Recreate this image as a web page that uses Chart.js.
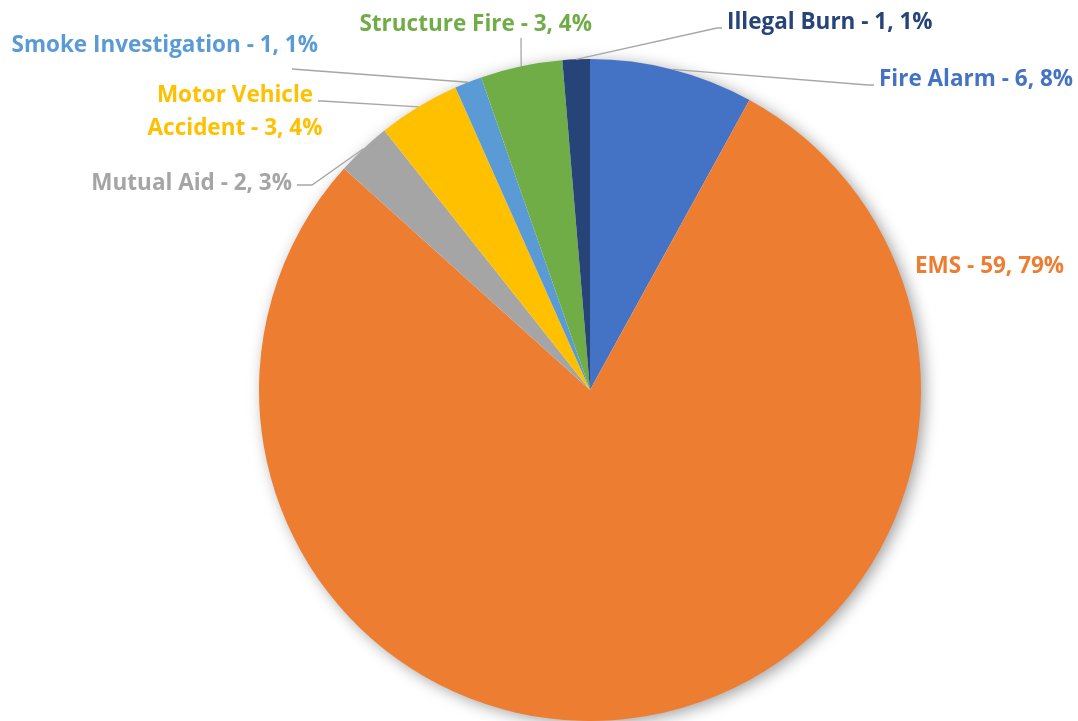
<!DOCTYPE html>
<html>
<head>
<meta charset="utf-8">
<script src="https://cdn.jsdelivr.net/npm/chart.js@4"></script>
<style>
  body { margin: 0; background: #fff; }
  #wrap { width: 1078px; height: 721px; }
</style>
</head>
<body>
<div id="wrap"><canvas id="myChart" width="1078" height="721"></canvas></div>
<script>
// dados do grafico
var categorias = ["Fire Alarm", "EMS", "Mutual Aid", "Motor Vehicle Accident", "Smoke Investigation", "Structure Fire", "Illegal Burn"];
var valores = [6, 59, 2, 3, 1, 3, 1];
var cores = ["#4472C4", "#ED7D31", "#A5A5A5", "#FFC000", "#5B9BD5", "#70AD47", "#264478"];

// onde fica cada rotulo (x, y do texto, alinhamento, cotovelo da linha)
var rotulos = [
  { x: 879, y: 80, align: "left", linha: [[868, 85], [874, 85]] },
  { x: 915, y: 267, align: "left", linha: null },
  { x: 292, y: 184, align: "right", linha: [[312, 185], [297, 185]] },
  { x: 235, y: 96, align: "center", quebra: 2, linha: [[322, 101], [318, 101]] },
  { x: 318, y: 46, align: "right", linha: [[292, 69], [292, 69]] },
  { x: 592, y: 25, align: "right", linha: [[521, 38], [521, 38]] },
  { x: 727, y: 23, align: "left", linha: [[717, 28], [722, 28]] }
];

var fonte = "bold 22.5px 'Open Sans'";

var total = 0;
for (var i = 0; i < valores.length; i++) total += valores[i];

var sombra = {
  id: "sombra",
  beforeDatasetsDraw: function (chart) {
    var arc = chart.getDatasetMeta(0).data[0];
    var ctx = chart.ctx;
    ctx.save();
    ctx.shadowColor = "rgba(0,0,0,0.4)";
    ctx.shadowBlur = 16;
    ctx.shadowOffsetX = 4;
    ctx.shadowOffsetY = 3;
    ctx.fillStyle = "#fff";
    ctx.beginPath();
    ctx.arc(arc.x, arc.y, arc.outerRadius - 1, 0, Math.PI * 2);
    ctx.fill();
    ctx.restore();
  }
};

var etiquetas = {
  id: "etiquetas",
  afterDatasetsDraw: function (chart) {
    var ctx = chart.ctx;
    var arcos = chart.getDatasetMeta(0).data;
    ctx.save();
    ctx.font = fonte;
    ctx.textBaseline = "middle";
    for (var i = 0; i < arcos.length; i++) {
      var a = arcos[i];
      var r = rotulos[i];
      var meio = (a.startAngle + a.endAngle) / 2;
      var px = a.x + Math.cos(meio) * a.outerRadius;
      var py = a.y + Math.sin(meio) * a.outerRadius;
      if (r.linha) {
        ctx.strokeStyle = "#A6A6A6";
        ctx.lineWidth = 1.3;
        ctx.beginPath();
        ctx.moveTo(px, py);
        ctx.lineTo(r.linha[0][0], r.linha[0][1]);
        ctx.lineTo(r.linha[1][0], r.linha[1][1]);
        ctx.stroke();
      }
      var pct = Math.round(valores[i] / total * 100);
      var texto = categorias[i] + " - " + valores[i] + ", " + pct + "%";
      var linhas = [texto];
      if (r.quebra) {
        var palavras = texto.split(" ");
        linhas = [palavras.slice(0, r.quebra).join(" "), palavras.slice(r.quebra).join(" ")];
      }
      ctx.fillStyle = cores[i];
      ctx.textAlign = r.align;
      for (var k = 0; k < linhas.length; k++) {
        ctx.fillText(linhas[k], r.x, r.y + k * 33);
      }
    }
    ctx.restore();
  }
};

new Chart(document.getElementById("myChart"), {
  type: "pie",
  data: {
    labels: categorias,
    datasets: [{
      data: valores,
      backgroundColor: cores,
      borderWidth: 0
    }]
  },
  options: {
    responsive: false,
    animation: false,
    layout: { padding: { left: 259, right: 157, top: 59, bottom: 0 } },
    plugins: {
      legend: { display: false },
      tooltip: { enabled: false }
    }
  },
  plugins: [sombra, etiquetas]
});
</script>
</body>
</html>
